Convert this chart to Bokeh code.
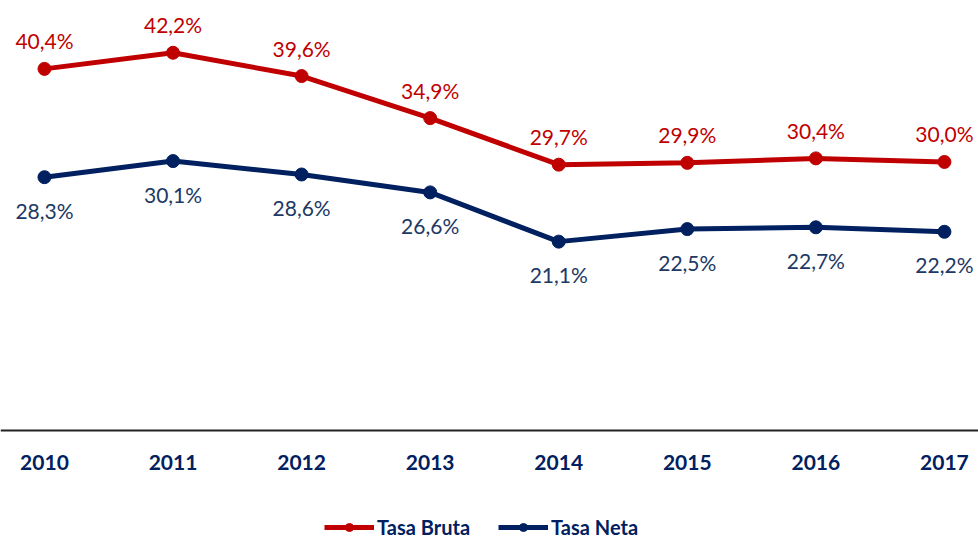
from bokeh.plotting import figure
from bokeh.models import ColumnDataSource, LabelSet, Range1d, Legend, LegendItem, Span
from bokeh.core.properties import value
from bokeh.embed import file_html
from bokeh.resources import INLINE

years = ["2010", "2011", "2012", "2013", "2014", "2015", "2016", "2017"]
tasa_bruta = [40.4, 42.2, 39.6, 34.9, 29.7, 29.9, 30.4, 30.0]
tasa_neta = [28.3, 30.1, 28.6, 26.6, 21.1, 22.5, 22.7, 22.2]

RED = "#C00000"
NAVY = "#002060"
NAVY_TXT = "#203864"
FONT = "Lato"

xs = list(range(len(years)))
src = ColumnDataSource(dict(
    x=xs, bruta=tasa_bruta, neta=tasa_neta, year=years,
    base=[0] * len(years),
    bl=[f"{v:.1f}%".replace(".", ",") for v in tasa_bruta],
    nl=[f"{v:.1f}%".replace(".", ",") for v in tasa_neta],
))

p = figure(width=978, height=539, frame_width=978, frame_height=539,
           output_backend="svg", toolbar_location=None,
           x_range=Range1d(-0.342, 7.265), y_range=Range1d(-12.18, 48.04),
           min_border_left=0, min_border_right=0, min_border_top=0, min_border_bottom=0)
p.outline_line_color = None
p.grid.visible = False
p.xaxis.visible = False
p.yaxis.visible = False
p.background_fill_color = "white"
p.border_fill_color = "white"

# category axis baseline at zero
p.add_layout(Span(location=0, dimension="width", line_color="#222222", line_width=2))

r1 = p.line("x", "bruta", source=src, color=RED, line_width=5)
s1 = p.scatter("x", "bruta", source=src, color=RED, size=13)
r2 = p.line("x", "neta", source=src, color=NAVY, line_width=5)
s2 = p.scatter("x", "neta", source=src, color=NAVY, size=13)

p.add_layout(LabelSet(x="x", y="bruta", text="bl", source=src, text_align="center",
                      text_baseline="middle", y_offset=28, text_color=RED,
                      text_font=value(FONT), text_font_size="21px"))
p.add_layout(LabelSet(x="x", y="neta", text="nl", source=src, text_align="center",
                      text_baseline="middle", y_offset=-33, text_color=NAVY_TXT,
                      text_font=value(FONT), text_font_size="21px"))
# category tick labels
p.add_layout(LabelSet(x="x", y="base", text="year", source=src, text_align="center",
                      text_baseline="middle", y_offset=-32, text_color=NAVY,
                      text_font=value(FONT), text_font_style="bold", text_font_size="21px"))

legend = Legend(items=[LegendItem(label="Tasa Bruta", renderers=[r1, s1]),
                       LegendItem(label="Tasa Neta", renderers=[r2, s2])],
                orientation="horizontal", location=(324, 0),
                label_text_font=FONT, label_text_font_style="bold",
                label_text_font_size="20px", label_text_color=NAVY,
                glyph_width=50, spacing=28, border_line_color=None,
                background_fill_alpha=0, margin=0, padding=2, label_standoff=3)
p.add_layout(legend, "center")

open("out.html", "w").write(file_html(p, INLINE))
